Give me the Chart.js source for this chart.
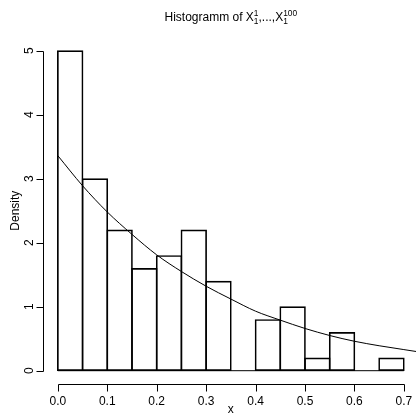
<!DOCTYPE html>
<html>
<head>
<meta charset="utf-8">
<title>Histogramm</title>
<script src="https://cdn.jsdelivr.net/npm/chart.js@4.4.1/dist/chart.umd.min.js"></script>
<style>
  html, body { margin: 0; padding: 0; background: #fff; }
  canvas { display: block; }
</style>
</head>
<body>
<canvas id="histChart" width="416" height="415"></canvas>
<script>
// Histogram data (bin breaks and densities)
const breaks = [0, 0.05, 0.1, 0.15, 0.2, 0.25, 0.3, 0.35, 0.4, 0.45, 0.5, 0.55, 0.6, 0.65, 0.7];
const densities = [5, 3, 2.2, 1.6, 1.8, 2.2, 1.4, 0, 0.8, 1.0, 0.2, 0.6, 0, 0.2];

// Density curve
const curveX = [0, 0.05, 0.1, 0.15, 0.2, 0.25, 0.3, 0.35, 0.4, 0.45, 0.5, 0.55, 0.6, 0.65, 0.7, 0.725];
const curveY = [3.36, 2.89, 2.48, 2.13, 1.81, 1.55, 1.32, 1.12, 0.93, 0.79, 0.66, 0.55, 0.46, 0.39, 0.33, 0.30];

// Axis ticks
const xTicks = [0, 0.1, 0.2, 0.3, 0.4, 0.5, 0.6, 0.7];
const xTickLabels = ['0.0', '0.1', '0.2', '0.3', '0.4', '0.5', '0.6', '0.7'];
const yTicks = [0, 1, 2, 3, 4, 5];
const yTickLabels = ['0', '1', '2', '3', '4', '5'];

// Layout
const FONT = '"Liberation Sans", Arial, Helvetica, sans-serif';
const pad = { left: 44, right: 0, top: 37.9, bottom: 31.5 };
const xMin = -0.028, xMax = 0.7246;
const yMin = -0.2, yMax = 5.2;
const plotWidth = 416 - pad.left - pad.right;
const binPx = plotWidth / (xMax - xMin) * (breaks[1] - breaks[0]) + 1;

const barData = densities.map((d, i) => ({ x: (breaks[i] + breaks[i + 1]) / 2, y: d }));
const curveData = curveX.map((v, i) => ({ x: v, y: curveY[i] }));
const baseData = [{ x: breaks[0], y: 0 }, { x: breaks[breaks.length - 1], y: 0 }];

// Draws R-style axes, labels and the title
const rAxesPlugin = {
  id: 'rAxes',
  afterDraw(chart) {
    const { ctx, chartArea, scales: { x, y } } = chart;
    ctx.save();
    ctx.strokeStyle = '#000';
    ctx.fillStyle = '#000';
    ctx.lineWidth = 1;

    // x axis
    const yb = Math.round(chartArea.bottom) + 0.5;
    ctx.beginPath();
    ctx.moveTo(Math.round(x.getPixelForValue(xTicks[0])) + 0.5, yb);
    ctx.lineTo(Math.round(x.getPixelForValue(xTicks[xTicks.length - 1])) + 0.5, yb);
    xTicks.forEach(v => {
      const px = Math.round(x.getPixelForValue(v)) + 0.5;
      ctx.moveTo(px, yb);
      ctx.lineTo(px, yb + 7);
    });
    ctx.stroke();

    ctx.font = '12px ' + FONT;
    ctx.textAlign = 'center';
    ctx.textBaseline = 'middle';
    xTicks.forEach((v, i) => ctx.fillText(xTickLabels[i], x.getPixelForValue(v), yb + 17));

    // y axis
    const xl = Math.round(chartArea.left) - 0.5;
    ctx.beginPath();
    ctx.moveTo(xl, Math.round(y.getPixelForValue(yTicks[0])) + 0.5);
    ctx.lineTo(xl, Math.round(y.getPixelForValue(yTicks[yTicks.length - 1])) + 0.5);
    yTicks.forEach(v => {
      const py = Math.round(y.getPixelForValue(v)) + 0.5;
      ctx.moveTo(xl, py);
      ctx.lineTo(xl - 7, py);
    });
    ctx.stroke();

    yTicks.forEach((v, i) => {
      ctx.save();
      ctx.translate(xl - 14, y.getPixelForValue(v));
      ctx.rotate(-Math.PI / 2);
      ctx.fillText(yTickLabels[i], 0, 0);
      ctx.restore();
    });

    // axis titles
    const midX = x.getPixelForValue((xTicks[0] + xTicks[xTicks.length - 1]) / 2);
    ctx.fillText('x', midX, 410);
    ctx.save();
    ctx.translate(16, (chartArea.top + chartArea.bottom) / 2);
    ctx.rotate(-Math.PI / 2);
    ctx.fillText('Density', 0, 0);
    ctx.restore();

    // title: Histogramm of X_1^1,...,X_1^100
    const big = '12px ' + FONT;
    const small = '8.4px ' + FONT;
    const parts = [
      { t: 'Histogramm of X', f: big },
      { sup: '1', sub: '1' },
      { t: ',...,X', f: big },
      { sup: '100', sub: '1' }
    ];
    const widthOf = p => {
      if (p.t) { ctx.font = p.f; return ctx.measureText(p.t).width; }
      ctx.font = small;
      return Math.max(ctx.measureText(p.sup).width, ctx.measureText(p.sub).width);
    };
    const total = parts.reduce((s, p) => s + widthOf(p), 0);
    let cx = midX - total / 2;
    const base = 21;
    ctx.textAlign = 'left';
    ctx.textBaseline = 'alphabetic';
    parts.forEach(p => {
      const w = widthOf(p);
      if (p.t) {
        ctx.font = p.f;
        ctx.fillText(p.t, cx, base);
      } else {
        ctx.font = small;
        ctx.fillText(p.sup, cx, base - 5.5);
        ctx.fillText(p.sub, cx, base + 2.5);
      }
      cx += w;
    });
    ctx.restore();
  }
};

const ctx = document.getElementById('histChart').getContext('2d');
new Chart(ctx, {
  type: 'bar',
  data: {
    datasets: [
      {
        type: 'bar',
        label: 'Density',
        data: barData,
        backgroundColor: 'rgba(0,0,0,0)',
        borderColor: '#000',
        borderWidth: 1,
        borderSkipped: false,
        barThickness: binPx,
        order: 2
      },
      {
        type: 'line',
        label: 'baseline',
        data: baseData,
        borderColor: '#000',
        borderWidth: 1,
        pointRadius: 0,
        order: 1
      },
      {
        type: 'line',
        label: 'curve',
        data: curveData,
        borderColor: '#000',
        borderWidth: 1,
        pointRadius: 0,
        cubicInterpolationMode: 'monotone',
        order: 0
      }
    ]
  },
  options: {
    responsive: false,
    devicePixelRatio: 1,
    animation: false,
    layout: { padding: pad },
    plugins: {
      legend: { display: false },
      tooltip: { enabled: false },
      title: { display: false }
    },
    scales: {
      x: {
        type: 'linear',
        min: xMin,
        max: xMax,
        offset: false,
        display: false
      },
      y: {
        min: yMin,
        max: yMax,
        display: false
      }
    }
  },
  plugins: [rAxesPlugin]
});
</script>
</body>
</html>
